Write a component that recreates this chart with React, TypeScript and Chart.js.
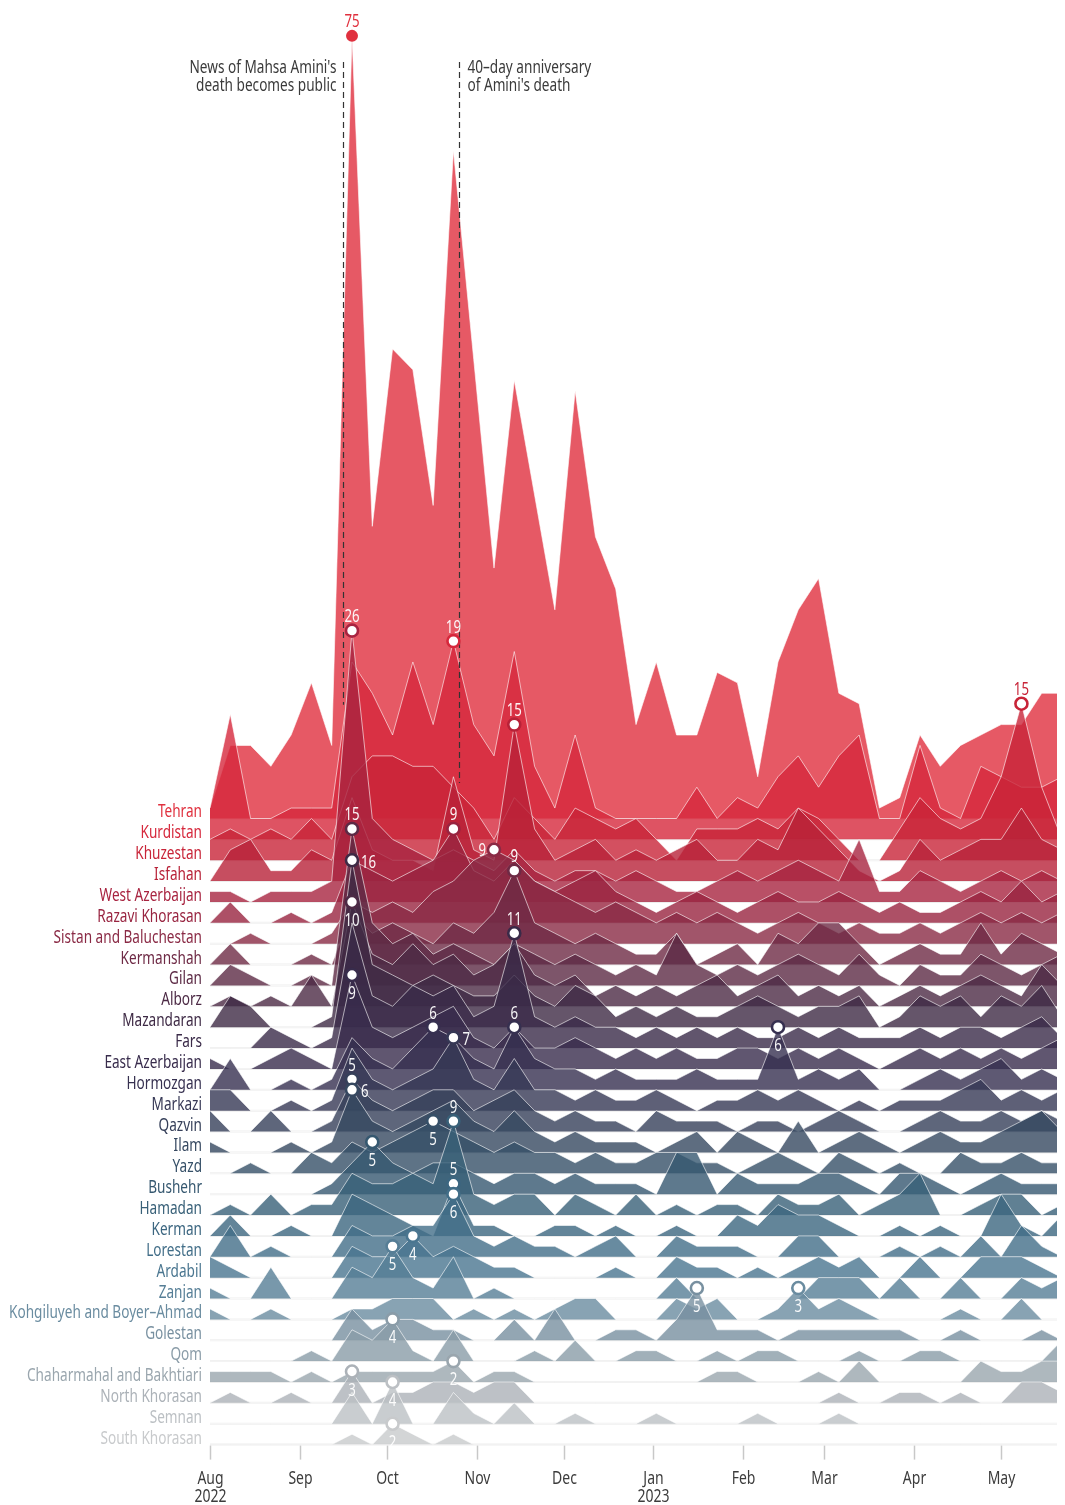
import React, { useEffect, useRef } from "react";
import { Chart, registerables } from "chart.js";
Chart.register(...registerables);

const FAM = '"Noto Sans", "Open Sans", sans-serif';

const provinces = [
  "Tehran", "Kurdistan", "Khuzestan", "Isfahan", "West Azerbaijan", "Razavi Khorasan",
  "Sistan and Baluchestan", "Kermanshah", "Gilan", "Alborz", "Mazandaran", "Fars",
  "East Azerbaijan", "Hormozgan", "Markazi", "Qazvin", "Ilam", "Yazd", "Bushehr",
  "Hamadan", "Kerman", "Lorestan", "Ardabil", "Zanjan", "Kohgiluyeh and Boyer–Ahmad",
  "Golestan", "Qom", "Chaharmahal and Bakhtiari", "North Khorasan", "Semnan", "South Khorasan",
];

const rowColors = [
  "#e0303e", "#d6283c", "#c82438", "#b82238", "#a82440", "#982440", "#8a2a45", "#6e2a45",
  "#5c2a45", "#4c2a45", "#3e2a45", "#3a2a48", "#382c4c", "#363050", "#363855", "#36405a",
  "#364860", "#365068", "#365870", "#386078", "#3c6680", "#426e88", "#4a7690", "#567e96",
  "#6a8ca0", "#7890a0", "#8a9ca8", "#9aa6ae", "#acb2b8", "#bcc0c4", "#c8cacc",
];

// weekly observations, days since 1 Aug 2022
const weekStarts = [
  0, 7, 14, 21, 28, 35, 42, 49, 56, 63, 70, 77, 84, 91, 98, 105, 112, 119, 126, 133, 140,
  147, 154, 161, 168, 175, 182, 189, 196, 203, 210, 217, 224, 231, 238, 245, 252, 259, 266,
  273, 280, 287, 294,
];

const tehran = [1,7,7,5,8,13,7,75,28,45,43,30,64,44,24,42,31,20,41,27,22,9,15,8,8,14,13,4,15,20,23,12,11,1,2,8,5,7,8,9,9,12,12];
const kurdistan = [3,12,2,2,3,3,3,17,14,10,17,11,19,11,8,18,7,3,10,3,2,2,2,2,5,2,4,3,6,8,5,8,10,2,2,9,3,2,7,6,5,5,6];
const khuzestan = [2,3,2,3,2,4,2,8,10,10,9,9,7,5,2,6,4,2,5,4,3,4,2,0,3,3,3,4,3,5,4,2,0,0,3,6,4,3,4,8,15,7,2];
const isfahan = [0,3,4,1,1,3,2,8,3,2,2,1,10,3,2,15,5,2,3,4,2,3,2,3,4,2,2,4,3,7,5,3,1,0,1,4,2,3,4,4,7,4,3];
const westAzerbaijan = [1,1,0,1,1,1,2,26,8,6,5,4,5,4,3,5,3,2,3,3,2,3,2,1,1,2,3,2,3,4,3,2,6,1,1,3,2,1,2,3,2,3,2];
const razaviKhorasan = [0,2,0,0,1,0,1,6,5,4,5,6,9,5,4,6,4,3,4,5,3,2,1,2,3,2,1,2,3,2,2,3,2,1,2,1,1,2,3,2,4,2,3];
const sistan = [0,0,1,0,0,0,1,4,3,4,3,5,6,8,9,8,6,5,4,3,4,3,2,3,2,3,2,1,2,3,2,1,2,1,1,2,1,2,3,2,3,2,3];
const kermanshah = [0,2,0,0,0,1,0,5,3,4,3,2,4,3,5,9,4,3,2,3,2,1,1,3,0,1,2,0,3,2,4,4,2,0,1,2,1,1,4,1,3,2,1];
const gilan = [0,2,1,0,0,1,0,15,6,4,5,3,4,3,2,4,3,2,3,2,1,2,1,5,2,1,2,1,2,3,2,1,3,1,0,2,1,1,3,2,1,2,3];
const alborz = [0,1,0,1,0,3,0,10,5,4,6,4,5,3,4,6,3,2,3,1,2,1,2,1,2,3,1,2,3,1,2,1,2,0,1,2,1,2,3,2,1,4,2];
const mazandaran = [0,3,2,0,0,0,1,16,6,5,4,5,4,3,3,5,3,2,4,3,1,2,1,2,1,1,2,3,2,1,2,2,3,0,1,3,2,3,1,3,2,4,1];
const fars = [0,0,0,2,1,0,1,12,5,4,6,5,6,3,4,11,3,2,3,2,2,1,2,1,2,1,2,1,1,2,1,2,1,1,1,2,1,2,2,1,2,3,1];
const eastAzerbaijan = [1,0,0,1,2,1,0,9,4,3,4,5,6,3,2,4,2,2,3,2,1,2,1,2,1,1,2,2,1,2,1,2,1,0,1,2,1,2,1,2,1,2,3];
const hormozgan = [0,3,0,0,1,0,1,5,3,2,4,6,5,3,2,6,3,2,2,1,2,1,1,1,2,1,1,1,6,1,2,1,2,0,0,1,2,1,2,3,1,2,1];
const markazi = [2,2,0,0,1,0,1,6,3,2,3,4,7,3,2,5,2,2,1,2,1,1,2,1,0,1,1,2,1,2,1,0,1,0,1,1,1,2,3,1,2,1,2];
const qazvin = [2,0,0,2,0,0,1,5,3,2,3,4,4,2,3,4,2,1,2,1,1,0,2,1,1,1,0,1,1,0,1,2,1,0,0,1,2,1,1,2,1,2,1];
const ilam = [1,0,0,0,1,0,1,6,3,2,3,4,5,3,2,4,2,1,2,1,1,1,0,1,2,0,2,1,0,3,0,1,2,1,0,1,2,1,1,2,3,4,2];
const yazd = [0,0,1,0,0,2,1,3,2,3,4,5,4,3,2,3,2,2,1,2,1,1,2,2,1,1,0,1,2,1,0,2,1,0,1,0,0,2,1,1,2,1,1];
const bushehr = [0,0,0,0,0,0,1,3,5,3,2,3,3,2,1,2,2,1,2,1,1,1,0,4,4,0,2,1,1,1,2,2,1,0,2,2,1,0,1,2,1,1,1];
const hamadan = [0,1,0,2,0,1,1,4,3,3,4,3,9,2,1,2,2,0,2,1,0,2,0,1,0,1,1,0,2,1,1,2,0,1,2,4,0,0,1,2,2,0,1];
const kerman = [0,2,0,0,1,0,0,4,3,2,1,0,5,1,1,0,0,1,1,0,1,0,0,1,0,0,2,1,3,2,2,1,0,0,1,0,1,0,0,4,1,0,2];
const lorestan = [0,3,0,1,0,0,0,3,2,2,3,3,6,2,1,2,1,1,0,1,2,0,0,2,1,1,1,0,0,2,2,0,0,0,1,0,1,0,2,0,3,1,0];
const ardabil = [2,1,0,0,0,0,0,3,2,2,4,2,3,2,1,1,0,0,0,0,1,0,0,2,1,1,0,1,0,1,2,1,2,0,0,2,0,0,2,2,2,1,0];
const zanjan = [1,0,0,3,0,0,0,3,2,5,2,1,4,0,1,0,0,0,0,0,0,0,0,2,0,0,0,0,0,0,2,2,2,0,2,0,0,2,0,0,2,1,2];
const kohgiluyeh = [1,0,0,1,0,0,0,1,1,2,2,2,0,1,0,1,0,1,2,2,0,0,0,2,1,2,0,0,1,3,1,2,1,0,0,0,0,1,0,0,2,0,0];
const golestan = [0,0,0,0,0,0,0,3,1,2,2,1,1,0,0,2,0,3,0,0,1,1,0,2,5,1,1,1,0,1,1,1,1,1,1,0,0,1,0,0,0,1,0];
const qom = [0,0,0,0,0,1,0,3,2,4,1,0,3,0,0,0,1,0,2,0,0,1,1,0,0,1,0,1,1,0,0,0,1,0,0,1,1,0,0,0,0,0,2];
const chaharmahal = [1,1,1,1,0,1,0,1,1,1,1,1,2,0,1,1,0,0,0,0,0,0,0,0,0,1,1,0,0,0,1,0,2,0,0,0,0,0,2,1,1,2,2];
const northKhorasan = [0,1,0,0,1,0,0,3,0,1,1,2,2,1,2,2,0,0,0,0,0,0,0,0,0,0,0,0,0,0,0,1,0,0,1,1,0,1,0,0,2,2,1];
const semnan = [0,0,0,0,0,0,0,3,0,4,0,0,3,1,0,2,0,0,1,0,0,0,1,0,0,0,0,1,0,0,0,1,0,0,0,0,0,0,0,0,0,0,0];
const southKhorasan = [0,0,0,0,0,0,0,1,0,2,1,0,1,0,0,0,0,0,0,0,0,0,0,0,0,0,0,0,0,0,0,0,0,0,0,0,0,0,0,0,0,0,0];

const series = [
  tehran, kurdistan, khuzestan, isfahan, westAzerbaijan, razaviKhorasan, sistan, kermanshah,
  gilan, alborz, mazandaran, fars, eastAzerbaijan, hormozgan, markazi, qazvin, ilam, yazd,
  bushehr, hamadan, kerman, lorestan, ardabil, zanjan, kohgiluyeh, golestan, qom, chaharmahal,
  northKhorasan, semnan, southKhorasan,
];

// highlighted maxima: [row, week index, label side]
const markers: [number, number, string][] = [
  [0, 7, "above"], [1, 12, "above"], [2, 40, "above"], [3, 15, "above"], [4, 7, "above"],
  [5, 12, "above"], [6, 14, "left"], [7, 15, "above"], [8, 7, "above"], [9, 7, "below"],
  [10, 7, "right"], [11, 15, "above"], [12, 7, "below"], [13, 11, "above"], [13, 15, "above"],
  [13, 28, "below"], [14, 12, "right"], [15, 7, "above"], [16, 7, "right"], [17, 11, "below"],
  [18, 8, "below"], [19, 12, "above"], [20, 12, "above"], [21, 12, "below"], [22, 10, "below"],
  [23, 9, "below"], [24, 29, "below"], [25, 24, "below"], [26, 9, "below"], [27, 12, "below"],
  [28, 7, "below"], [29, 9, "below"], [30, 9, "below"],
];

const monthDays = [0, 31, 61, 92, 122, 153, 184, 212, 243, 273];
const monthLabels: string[][] = [["Aug", "2022"], ["Sep"], ["Oct"], ["Nov"], ["Dec"], ["Jan", "2023"], ["Feb"], ["Mar"], ["Apr"], ["May"]];

const events = [
  { day: 46, endValue: 10.9, lines: ["News of Mahsa Amini's", "death becomes public"], side: "left" },
  { day: 86, endValue: 3.4, lines: ["40–day anniversary", "of Amini's death"], side: "right" },
];

const ROW_STEP = 2;

function rgba(hex: string, a: number) {
  const n = parseInt(hex.slice(1), 16);
  return `rgba(${(n >> 16) & 255},${(n >> 8) & 255},${n & 255},${a})`;
}

const W = 1057;
const H = 1497;
const Y_MAX = 77;
const Y_MIN = -60;
const PAD_TOP = 7;
const PAD_LEFT = 202;
const PX_PER_UNIT = 10.435;
const PAD_BOTTOM = H - PAD_TOP - (Y_MAX - Y_MIN) * PX_PER_UNIT;

let SX = 0.78;

function txt(ctx: CanvasRenderingContext2D, s: string, x: number, y: number, align: string, size: number, color: string) {
  ctx.save();
  ctx.font = `${size}px ${FAM}`;
  ctx.fillStyle = color;
  ctx.textBaseline = "alphabetic";
  ctx.textAlign = "left";
  const w = ctx.measureText(s).width * SX;
  const x0 = align === "right" ? x - w : align === "center" ? x - w / 2 : x;
  ctx.translate(x0, y);
  ctx.scale(SX, 1);
  ctx.fillText(s, 0, 0);
  ctx.restore();
}

const gridPlugin = {
  id: "rowgrid",
  beforeDatasetsDraw(chart: any) {
    const { ctx, chartArea } = chart;
    const ys = chart.scales.y;
    ctx.save();
    ctx.strokeStyle = "#ededed";
    ctx.lineWidth = 2;
    provinces.forEach((_, r) => {
      const py = ys.getPixelForValue(-ROW_STEP * r);
      ctx.beginPath();
      ctx.moveTo(chartArea.left, py);
      ctx.lineTo(chartArea.right, py);
      ctx.stroke();
    });
    ctx.restore();
  },
};

const overlayPlugin = {
  id: "overlay",
  afterDatasetsDraw(chart: any) {
    const { ctx, chartArea } = chart;
    const xs = chart.scales.x;
    const ys = chart.scales.y;
    ctx.save();
    ctx.font = `18px ${FAM}`;
    SX = 193 / ctx.measureText("Kohgiluyeh and Boyer–Ahmad").width;

    provinces.forEach((name, r) => {
      const py = ys.getPixelForValue(-ROW_STEP * r);
      txt(ctx, name, PAD_LEFT - 8, py - 1, "right", 18, rowColors[r]);
    });

    monthDays.forEach((d, i) => {
      const px = Math.round(xs.getPixelForValue(d)) + 0.5;
      ctx.strokeStyle = "#c8c8c8";
      ctx.lineWidth = 1.5;
      ctx.beginPath();
      ctx.moveTo(px, chartArea.bottom + 1);
      ctx.lineTo(px, chartArea.bottom + 15);
      ctx.stroke();
      monthLabels[i].forEach((l, j) => txt(ctx, l, px, 1476 + j * 18, "center", 18.5, "#3c3c3c"));
    });

    for (const ev of events) {
      const px = Math.round(xs.getPixelForValue(ev.day)) + 0.5;
      ctx.strokeStyle = "#333";
      ctx.lineWidth = 1.2;
      ctx.setLineDash([6, 4]);
      ctx.beginPath();
      ctx.moveTo(px, 54);
      ctx.lineTo(px, ys.getPixelForValue(ev.endValue));
      ctx.stroke();
      ctx.setLineDash([]);
      const tx = ev.side === "left" ? px - 7 : px + 8;
      ev.lines.forEach((l, i) => txt(ctx, l, tx, 65 + i * 18, ev.side === "left" ? "right" : "left", 18, "#3a3a3a"));
    }

    for (const [row, wk, side] of markers) {
      const v = series[row][wk];
      const px = xs.getPixelForValue(weekStarts[wk]);
      const py = ys.getPixelForValue(v - ROW_STEP * row);
      ctx.beginPath();
      ctx.arc(px, py, 6, 0, Math.PI * 2);
      if (row === 0) {
        ctx.fillStyle = rowColors[0];
        ctx.fill();
      } else {
        ctx.fillStyle = "#ffffff";
        ctx.fill();
        ctx.lineWidth = 2.6;
        ctx.strokeStyle = rowColors[row];
        ctx.stroke();
      }
      const color = row === 0 || row === 2 ? rowColors[row] : "rgba(255,255,255,0.95)";
      const t = String(v);
      if (side === "above") txt(ctx, t, px, py - 8.5, "center", 17.5, color);
      else if (side === "below") txt(ctx, t, px, py + 24, "center", 17.5, color);
      else if (side === "left") txt(ctx, t, px - 8, py + 6.5, "right", 17.5, color);
      else txt(ctx, t, px + 9, py + 7.5, "left", 17.5, color);
    }
    ctx.restore();
  },
};

export default function App() {
  const ref = useRef<HTMLCanvasElement | null>(null);
  useEffect(() => {
    if (!ref.current) return;
    const datasets = series.map((vals, r) => ({
      label: provinces[r],
      data: vals.map((v, i) => ({ x: weekStarts[i], y: v - ROW_STEP * r })),
      borderColor: "rgba(255,255,255,0.6)",
      borderWidth: 1,
      backgroundColor: rgba(rowColors[r], 0.8),
      fill: { value: -ROW_STEP * r },
      pointRadius: 0,
      pointHoverRadius: 0,
      tension: 0,
      order: 100 - r,
    }));
    const chart = new Chart(ref.current, {
      type: "line",
      data: { datasets },
      options: {
        responsive: false,
        animation: false,
        events: [],
        layout: { padding: { top: PAD_TOP, right: 3, left: PAD_LEFT, bottom: PAD_BOTTOM } },
        plugins: { legend: { display: false }, tooltip: { enabled: false } },
        scales: {
          x: { type: "linear", display: false, min: 0, max: 294 },
          y: { type: "linear", display: false, min: Y_MIN, max: Y_MAX },
        },
      },
      plugins: [gridPlugin, overlayPlugin],
    } as any);
    return () => chart.destroy();
  }, []);
  return (
    <div style={{ width: W, height: H }}>
      <canvas ref={ref} width={W} height={H} style={{ display: "block", width: W, height: H }} />
    </div>
  );
}
